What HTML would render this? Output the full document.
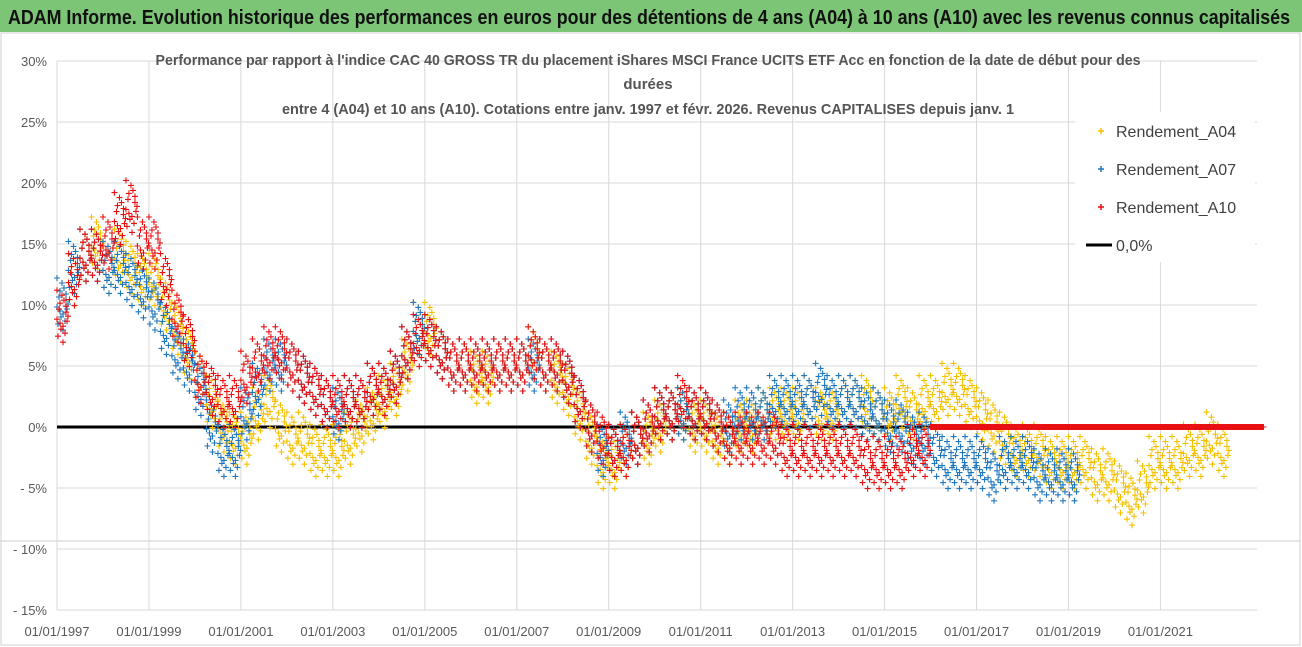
<!DOCTYPE html>
<html><head><meta charset="utf-8"><style>
html,body{margin:0;padding:0;background:#fff}
svg{display:block;font-family:"Liberation Sans Narrow","Liberation Sans",sans-serif}
</style></head><body>
<svg id="chart" width="1302" height="647" viewBox="0 0 1302 647" xmlns="http://www.w3.org/2000/svg">
<rect x="0" y="0" width="1302" height="647" fill="#fff"/>
<rect x="0" y="0" width="1302" height="32" fill="#7cc577"/>
<text x="8" y="24" font-size="20" font-weight="bold" fill="#111" textLength="1282" lengthAdjust="spacingAndGlyphs">ADAM Informe. Evolution historique des performances en euros pour des détentions de 4 ans (A04) à 10 ans (A10) avec les revenus connus capitalisés</text>
<rect x="1" y="33" width="1299" height="612" fill="none" stroke="#d0d0d0"/>
<line x1="0" y1="541" x2="1300" y2="541" stroke="#cfcfcf"/>
<g id="grid"></g>
<g id="axes"></g>
<g id="marks"></g>
<g font-size="15" font-weight="bold" fill="#555" text-anchor="middle">
<text x="648" y="65" textLength="985" lengthAdjust="spacingAndGlyphs">Performance par rapport à l'indice CAC 40 GROSS TR  du placement iShares MSCI France UCITS ETF Acc en fonction de la date de début pour des</text>
<text x="648" y="89">durées</text>
<text x="648" y="114" textLength="732" lengthAdjust="spacingAndGlyphs">entre 4 (A04) et 10 ans (A10). Cotations entre janv. 1997 et févr. 2026. Revenus CAPITALISES depuis janv. 1</text>
</g>
<g id="legend"></g>
</svg>
<script>
const startYear = 1997;
const a04 = [10,12,14,15, 13,14,13,12, 12,10,8,6, 4,2,0,-1, -1,1,2,0, -1,-1,-2,-2, -2,-1,0,1, 2,3,5,8, 8,6,5,5, 4,4,5,5, 5,6,5,4, 3,1,-1,-3, -3,-2,-1,-1, 0,1,1,0, 0,-1,-1,0, 0,1,1,1, 1,2,1,1, 2,2,2,1, 1,2,1,2, 2,3,3,2, 1,0,-1,-2, -2,-2,-3,-3, -3,-3,-4,-4, -5,-6,-5,-3, -3,-3,-2,-2, -1,-2];
const a07 = [10,13,14,14, 13,13,12,11, 10,8,6,5, 3,0,-2,-2, 1,3,5,5, 5,4,3,2, 1,2,2,3, 3,4,6,8, 7,6,5,5, 5,5,5,5, 5,5,5,5, 4,2,0,-2, -2,-1,-1,0, 1,1,1,1, 1,0,0,1, 1,1,2,2, 2,2,3,2, 2,2,1,1, 0,0,-1,-1, -2,-3,-3,-3, -3,-4,-3,-3, -3,-4,-4,-4, -4];
const a10 = [9,12,14,14, 15,17,18,15, 15,12,9,7, 4,3,2,2, 4,5,6,6, 5,4,3,2, 2,2,2,3, 3,4,6,7, 7,6,5,5, 5,5,5,5, 5,6,5,5, 4,2,0,-1, -2,-2,-1,0, 1,1,2,1, 1,0,-1,-1, -1,-1,-1,-2, -2,-2,-2,-2, -2,-2,-3,-3, -3,-3,-2,-2, 0,0,0,0, 0,0,0,0, 0,0,0,0, 0,0,0,0, 0,0,0,0, 0,0,0,0, 0,0,0,0, 0];
const yTicks = [30,25,20,15,10,5,0,-5,-10,-15];
const yTickLabels = ["30%","25%","20%","15%","10%","5%","0%","- 5%","- 10%","- 15%"];
const xTickYears = [1997,1999,2001,2003,2005,2007,2009,2011,2013,2015,2017,2019,2021];
const legendNames = ["Rendement_A04","Rendement_A07","Rendement_A10","0,0%"];

const NS = "http://www.w3.org/2000/svg";
const X0 = 57, X1 = 1257, Y0 = 61, YB = 610;
const xMin = 1997, xMax = 2023.1;
const x = t => X0 + (t - xMin) / (xMax - xMin) * (X1 - X0);
const y = v => 427 - v * 12.2;
function mk(tag, attrs, parent){const e=document.createElementNS(NS,tag);for(const k in attrs)e.setAttribute(k,attrs[k]);parent.appendChild(e);return e;}

const grid = document.getElementById('grid'), axes = document.getElementById('axes');
yTicks.forEach((v,i)=>{
  const l = mk('line',{x1:X0,x2:X1,y1:y(v),y2:y(v),stroke:'#d9d9d9'},grid);
  
  
  const t = mk('text',{x:47,y:y(v)+5,'text-anchor':'end','font-size':13,fill:'#595959'},axes);
  t.textContent = yTickLabels[i];
  
  
});
xTickYears.forEach(yr=>{
  const l = mk('line',{x1:x(yr),x2:x(yr),y1:Y0,y2:YB,stroke:'#d9d9d9'},grid);
  
  
  const t = mk('text',{x:x(yr),y:636,'text-anchor':'middle','font-size':13,fill:'#595959'},axes);
  t.textContent = '01/01/'+yr;
  
  
});
const zl = mk('line',{x1:X0,x2:X1,y1:y(0),y2:y(0),stroke:'#000','stroke-width':3},axes);



// marker scatter pattern (style only): offsets in px
const offs = [[0,2],[3,-14],[6,9],[9,-5],[1,19],[5,-22],[8,16],[2,-8],[10,4],[4,12],[7,-17],[11,-1],[0,-27],[6,25],[9,-11],[3,6]];
const marks = document.getElementById('marks');
function plus(px,py){return 'M'+(px-3)+' '+py+'h6M'+px+' '+(py-3)+'v6';}
function drawSeries(vals,color,name){
  const g = mk('g',{},marks);
  
  
  vals.forEach((v,i)=>{
    const t = startYear + i*0.25;
    const cx = x(t), cy = y(v);
    const flat = name==='series-a10' && i>=76;
    let d='';
    offs.forEach(o=>{ d += plus(cx+o[0], cy + (flat?0:o[1])); });
    const p = mk('path',{d:d,stroke:color,'stroke-width':1.1,fill:'none'},g);
    
    
  });
}
drawSeries(a04,'#f5c000','series-a04');
drawSeries(a07,'#1f77c0','series-a07');
drawSeries(a10,'#e81010','series-a10');

const legend = document.getElementById('legend');
mk('rect',{x:1075,y:112,width:180,height:150,fill:'#fff'},legend);
const lc = ['#f5c000','#1f77c0','#e81010','#000'];
legendNames.forEach((n,i)=>{
  const ly = 131 + i*38;
  if(i<3){
    const m = mk('path',{d:plus(1101,ly),stroke:lc[i],'stroke-width':1.5},legend);
    
    
  } else {
    const m = mk('line',{x1:1086,x2:1112,y1:ly,y2:ly,stroke:'#000','stroke-width':3},legend);
    
    
  }
  const t = mk('text',{x:1116,y:ly+6,'font-size':16,fill:'#404040'},legend);
  t.textContent = n;
  
  
});
</script>
</body></html>
